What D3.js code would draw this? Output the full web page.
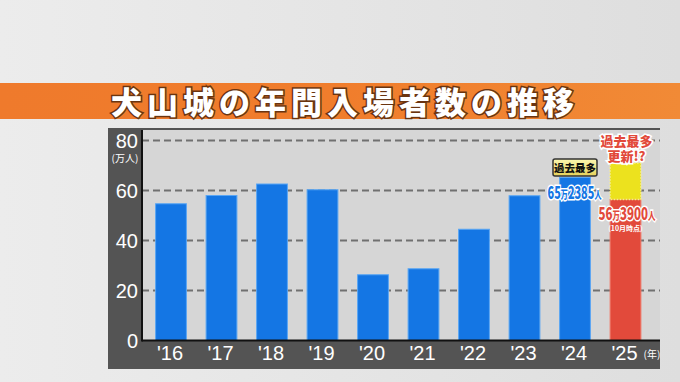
<!DOCTYPE html>
<html>
<head>
<meta charset="utf-8">
<script src="https://cdn.jsdelivr.net/npm/d3@7"></script>
<style>
  html, body { margin: 0; padding: 0; background: #e4e4e4; }
  svg { display: block; }
</style>
</head>
<body>
<div id="chart"></div>
<script>
// data (万人)
var years = ["'16", "'17", "'18", "'19", "'20", "'21", "'22", "'23", "'24", "'25"]
var visitors = [54.7, 58.0, 62.6, 60.3, 26.3, 28.7, 44.5, 57.9, 65.2385, 56.39]
var yTicks = [0, 20, 40, 60, 80]
var hopeTop = [71] // yellow "record?" box on top of '25
var title = "犬山城の年間入場者数の推移"

var width = 680
var height = 382
var plotLeft = 142
var plotRight = 660
var blue = "#1476e4"
var red = "#e24a3b"

var svg = d3.select("#chart")
  .append("svg")
  .attr("width", width)
  .attr("height", height)

var defs = svg.append("defs")

var bg = defs.append("linearGradient").attr("id", "bg").attr("x1", 0).attr("x2", 1)
bg.append("stop").attr("offset", "0%").attr("stop-color", "#ececec")
bg.append("stop").attr("offset", "100%").attr("stop-color", "#dedede")

var band = defs.append("linearGradient").attr("id", "band").attr("x1", 0).attr("x2", 1)
band.append("stop").attr("offset", "0%").attr("stop-color", "#ef7a2c")
band.append("stop").attr("offset", "50%").attr("stop-color", "#f07d2c")
band.append("stop").attr("offset", "100%").attr("stop-color", "#f18a36")

var badge = defs.append("linearGradient").attr("id", "badge").attr("x1", 0).attr("x2", 0).attr("y1", 0).attr("y2", 1)
badge.append("stop").attr("offset", "0%").attr("stop-color", "#fbf6b0")
badge.append("stop").attr("offset", "100%").attr("stop-color", "#e6d25a")

svg.append("rect").attr("width", width).attr("height", height).attr("fill", "url(#bg)")

// title band
svg.append("rect")
  .attr("x", 0).attr("y", 83).attr("width", width).attr("height", 36)
  .attr("fill", "url(#band)")

svg.append("text")
  .attr("x", 345).attr("y", 114)
  .attr("text-anchor", "middle")
  .attr("font-family", "'Noto Sans CJK JP', sans-serif")
  .attr("font-weight", 900)
  .attr("font-size", 31)
  .attr("letter-spacing", 5)
  .attr("fill", "#ffffff")
  .attr("stroke", "#6a3410")
  .attr("stroke-width", 3)
  .attr("paint-order", "stroke")
  .text(title)

// chart frame
svg.append("rect")
  .attr("x", 108).attr("y", 128).attr("width", plotRight - 108).attr("height", 241)
  .attr("fill", "#545454")

var y = d3.scaleLinear().domain([0, 80]).range([340.5, 140.5])

var x = d3.scaleBand()
  .domain(years)
  .range([145.75, 650.75])
  .paddingInner(0.39)
  .paddingOuter(0.195)

svg.append("rect")
  .attr("x", plotLeft).attr("y", 130)
  .attr("width", plotRight - plotLeft).attr("height", y(0) - 130)
  .attr("fill", "#d6d6d6")

// grid
svg.append("g")
  .selectAll("line")
  .data(yTicks.filter(function (d) { return d > 0 }))
  .enter()
  .append("line")
  .attr("x1", plotLeft).attr("x2", plotRight)
  .attr("y1", function (d) { return y(d) })
  .attr("y2", function (d) { return y(d) })
  .attr("stroke", "#707070")
  .attr("stroke-width", 2)
  .attr("stroke-dasharray", "7,4")

// bars
svg.append("g")
  .selectAll("rect")
  .data(visitors)
  .enter()
  .append("rect")
  .attr("x", function (d, i) { return x(years[i]) })
  .attr("width", x.bandwidth())
  .attr("y", function (d) { return y(d) })
  .attr("height", function (d) { return y(0) - y(d) })
  .attr("fill", function (d, i) { return i === years.length - 1 ? red : blue })
  .attr("stroke", function (d, i) { return i === years.length - 1 ? "#f07a6a" : "#5aa6f4" })
  .attr("stroke-width", 1)

// yellow hope box above the '25 bar
var last = years[years.length - 1]
svg.append("rect")
  .attr("x", x(last))
  .attr("width", x.bandwidth())
  .attr("y", y(hopeTop[0]))
  .attr("height", y(visitors[visitors.length - 1]) - y(hopeTop[0]))
  .attr("fill", "#ece21e")
  .attr("stroke", "#f6ee90")
  .attr("stroke-width", 1.5)
  .attr("stroke-dasharray", "1.5,1.5")

// axes lines
svg.append("line")
  .attr("x1", plotLeft).attr("x2", plotLeft).attr("y1", 130).attr("y2", y(0) + 1)
  .attr("stroke", "#111").attr("stroke-width", 2)
svg.append("line")
  .attr("x1", plotLeft).attr("x2", plotRight).attr("y1", y(0)).attr("y2", y(0))
  .attr("stroke", "#111").attr("stroke-width", 2)

var numFont = "'Liberation Sans', Arial, sans-serif"

// y tick labels
svg.append("g")
  .selectAll("text")
  .data(yTicks)
  .enter()
  .append("text")
  .attr("x", 138)
  .attr("y", function (d) { return y(d) + 7 })
  .attr("text-anchor", "end")
  .attr("font-family", numFont)
  .attr("font-size", 20)
  .attr("fill", "#ffffff")
  .text(function (d) { return d })

svg.append("text")
  .attr("x", 125).attr("y", 162)
  .attr("text-anchor", "middle")
  .attr("font-family", "'Noto Sans CJK JP', sans-serif")
  .attr("font-size", 10)
  .attr("fill", "#ffffff")
  .text("(万人)")

// x tick labels
svg.append("g")
  .selectAll("text")
  .data(years)
  .enter()
  .append("text")
  .attr("x", function (d) { return x(d) + x.bandwidth() / 2 - 1 })
  .attr("y", 360)
  .attr("text-anchor", "middle")
  .attr("font-family", numFont)
  .attr("font-size", 20)
  .attr("fill", "#ffffff")
  .text(function (d) { return d })

svg.append("text")
  .attr("x", 652).attr("y", 358)
  .attr("text-anchor", "middle")
  .attr("font-family", "'Noto Sans CJK JP', sans-serif")
  .attr("font-size", 10)
  .attr("fill", "#ffffff")
  .text("(年)")

// annotations
var jp = "'Noto Sans CJK JP', sans-serif"
var prev = years[years.length - 2]
var prevCx = x(prev) + x.bandwidth() / 2
var lastCx = x(last) + x.bandwidth() / 2

svg.append("rect")
  .attr("x", prevCx - 22).attr("y", 159).attr("width", 44).attr("height", 17)
  .attr("rx", 2)
  .attr("fill", "url(#badge)")
  .attr("stroke", "#333").attr("stroke-width", 1.5)
svg.append("text")
  .attr("x", prevCx).attr("y", 172)
  .attr("text-anchor", "middle")
  .attr("font-family", jp).attr("font-weight", 900).attr("font-size", 10.5)
  .attr("fill", "#111")
  .text("過去最多")

// condensed amount label, squeezed horizontally like the TV caption
function amount(cx, baseline, color, big1, big2, sx) {
  var t = svg.append("g")
    .attr("transform", "translate(" + cx + "," + baseline + ") scale(" + sx + ",1)")
    .append("text")
    .attr("text-anchor", "middle")
    .attr("font-family", jp).attr("font-weight", 900)
    .attr("font-size", 17)
    .attr("fill", color)
    .attr("stroke", "#ffffff").attr("stroke-width", 3)
    .attr("paint-order", "stroke")
  t.append("tspan").text(big1)
  t.append("tspan").attr("font-size", 11).text("万")
  t.append("tspan").text(big2)
  t.append("tspan").attr("font-size", 11).text("人")
}

amount(prevCx - 0.5, 199, blue, "65", "2385", 0.64)
amount(lastCx + 1.5, 220, red, "56", "3900", 0.68)

svg.append("text")
  .attr("x", lastCx).attr("y", 230.5)
  .attr("text-anchor", "middle")
  .attr("font-family", jp).attr("font-weight", 700).attr("font-size", 7)
  .attr("fill", "#ffffff")
  .text("(10月時点)")

var hope = svg.append("text")
  .attr("text-anchor", "middle")
  .attr("font-family", jp).attr("font-weight", 900).attr("font-size", 13)
  .attr("fill", red)
  .attr("stroke", "#ffffff").attr("stroke-width", 3)
  .attr("paint-order", "stroke")
hope.append("tspan").attr("x", lastCx + 1).attr("y", 146).text("過去最多")
hope.append("tspan").attr("x", lastCx + 1).attr("y", 160.5).text("更新!?")
</script>
</body>
</html>
